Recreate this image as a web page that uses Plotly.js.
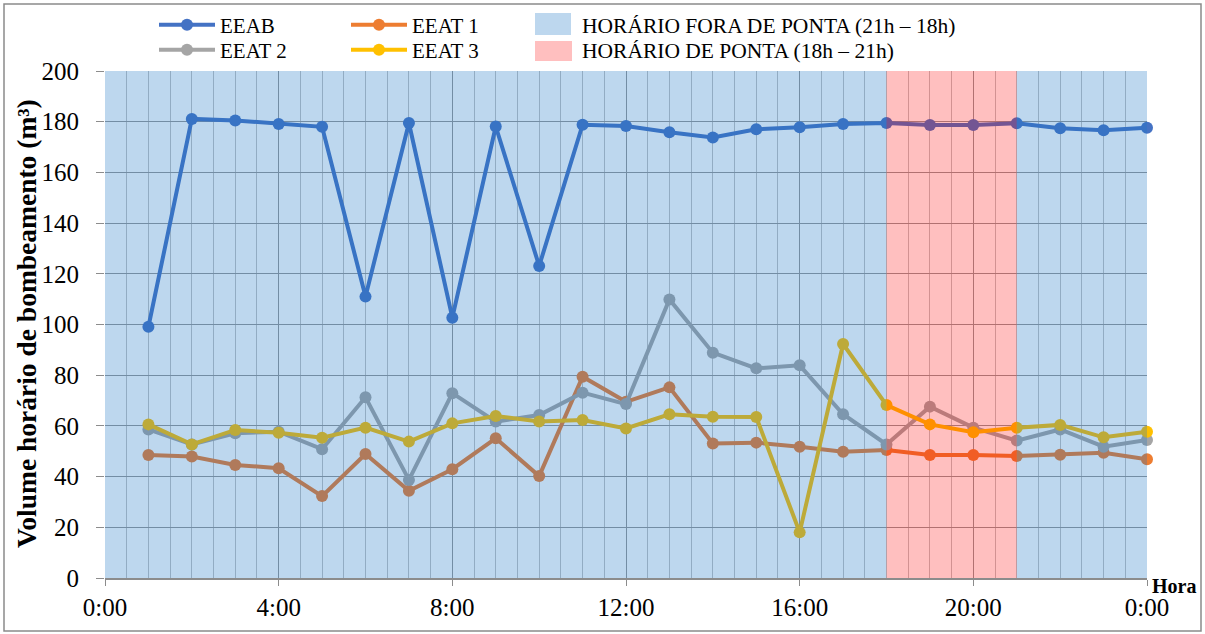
<!DOCTYPE html>
<html><head><meta charset="utf-8">
<script src="https://cdn.plot.ly/plotly-3.0.1.min.js"></script>
<style>
html,body{margin:0;padding:0;background:#fff}
#chart{width:1205px;height:634px}
</style></head><body><div id="chart"></div>
<script>
const hours = [1,2,3,4,5,6,7,8,9,10,11,12,13,14,15,16,17,18,19,20,21,22,23,24];
const eeab  = [99.1,181.1,180.5,179.1,178,111,179.5,102.7,178.1,123.1,178.8,178.3,175.8,173.8,177,177.8,179.1,179.5,178.7,178.7,179.4,177.4,176.6,177.6];
const eeat1 = [48.5,47.9,44.6,43.3,32.3,48.9,34.4,42.9,55.1,40.2,79.4,69.5,75.2,53.1,53.4,51.8,49.8,50.5,48.5,48.5,48.1,48.6,49.4,46.8];
const eeat2 = [58.6,52.7,57.1,57.7,50.8,71.3,38.7,72.9,61.7,64.3,73.1,68.6,109.9,88.9,82.7,83.9,64.6,52.7,67.6,59.3,54.2,58.6,51.8,54.4];
const eeat3 = [60.6,52.7,58.4,57.3,55.3,59.3,53.8,61,63.9,61.7,62.3,59,64.6,63.6,63.5,18,92.3,68.2,60.6,57.5,59.3,60.4,55.5,57.7];
const seriesNames = ['EEAB','EEAT 1','EEAT 2','EEAT 3'];
const seriesColors = ['#4472C4','#ED7D31','#A5A5A5','#FFC000'];
const xTickVals = [0,4,8,12,16,20,24];
const xTickText = ['0:00','4:00','8:00','12:00','16:00','20:00','0:00'];
const periodLabels = ['HORÁRIO FORA DE PONTA (21h – 18h)','HORÁRIO DE PONTA (18h – 21h)'];
const peakStart = 18, peakEnd = 21;

// translucent overlays (drawn above the lines, as in the original)
const offPeakFill = {color: 'rgb(27,117,196)', opacity: 0.29};
const peakFill = {color: 'rgb(255,0,0)', opacity: 0.25};

const FONT = 'Liberation Serif, Times New Roman, serif';
const L = 105, R = 1147, T = 71, B = 578;
const px2x = p => (p - L) / (R - L);
const px2y = p => (B - p) / (B - T);

const data = [eeab, eeat1, eeat2, eeat3];
const legendNames = ['legend','legend3','legend2','legend4'];
const traces = data.map((d, i) => ({
  type: 'scatter', mode: 'lines+markers', x: hours, y: d, name: seriesNames[i],
  line: {color: seriesColors[i], width: 4},
  marker: {color: seriesColors[i], size: 12},
  cliponaxis: false, legend: legendNames[i]
}));

function leg(px, py) {
  return {x: px2x(px), y: px2y(py), xanchor: 'left', yanchor: 'middle',
    bgcolor: 'rgba(0,0,0,0)', borderwidth: 0, itemwidth: 56,
    font: {family: FONT, size: 21, color: '#000'}};
}

function rect(xref, yref, x0, x1, y0, y1, fill) {
  return {type: 'rect', xref, yref, x0, x1, y0, y1, fillcolor: fill.color, opacity: fill.opacity,
    line: {width: 0}, layer: 'above'};
}

const shapes = [
  rect('x', 'y', 0, peakStart, 0, 200, offPeakFill),
  rect('x', 'y', peakStart, peakEnd, 0, 200, peakFill),
  rect('x', 'y', peakEnd, 24, 0, 200, offPeakFill),
  rect('paper', 'paper', px2x(535), px2x(571), px2y(35), px2y(13), offPeakFill),
  rect('paper', 'paper', px2x(535), px2x(572), px2y(61), px2y(41), peakFill),
  {type:'rect', xref:'paper', yref:'paper', x0:px2x(4), x1:px2x(1201), y0:px2y(631), y1:px2y(4),
   line:{width:1.5, color:'#8a8a8a'}, layer:'above'}
];

const annotations = [
  {xref:'paper', yref:'paper', x:px2x(580), y:px2y(26), xanchor:'left', yanchor:'middle', showarrow:false,
   text: periodLabels[0], font:{family:FONT, size:21.5, color:'#000'}},
  {xref:'paper', yref:'paper', x:px2x(580), y:px2y(51), xanchor:'left', yanchor:'middle', showarrow:false,
   text: periodLabels[1], font:{family:FONT, size:21.5, color:'#000'}},
  {xref:'paper', yref:'paper', x:px2x(26), y:px2y(324), xanchor:'center', yanchor:'middle', showarrow:false, textangle:-90,
   text:'<b>Volume horário de bombeamento (m³)</b>', font:{family:FONT, size:27.5, color:'#000'}},
  {xref:'paper', yref:'paper', x:px2x(1150), y:px2y(586), xanchor:'left', yanchor:'middle', showarrow:false,
   text:'<b>Hora</b>', font:{family:FONT, size:20, color:'#000'}}
];

const layout = {
  width: 1205, height: 634,
  margin: {l: L, r: 1205 - R, t: T, b: 634 - B, autoexpand: false},
  paper_bgcolor: '#ffffff', plot_bgcolor: '#ffffff',
  font: {family: FONT, size: 24, color: '#000'},
  showlegend: true,
  legend: leg(154, 25), legend2: leg(154, 50), legend3: leg(346, 25), legend4: leg(346, 50),
  xaxis: {range: [0, 24], tickmode: 'array', tickvals: xTickVals, ticktext: xTickText,
    showgrid: true, gridcolor: '#979797', gridwidth: 1,
    minor: {tickmode: 'linear', tick0: 0, dtick: 0.5, showgrid: true, gridcolor: '#c3c3c3', gridwidth: 1, ticklen: 0},
    ticks: 'outside', ticklen: 6, tickcolor: '#8c8c8c', tickfont: {family: FONT, size: 25, color: '#000'},
    showline: true, linecolor: '#8c8c8c', linewidth: 1.5, zeroline: false, fixedrange: true},
  yaxis: {range: [0, 200], tickmode: 'linear', tick0: 0, dtick: 20,
    showgrid: true, gridcolor: '#979797', gridwidth: 1,
    ticks: 'outside', ticklen: 8, tickcolor: '#8c8c8c', ticklabelstandoff: 12,
    tickfont: {family: FONT, size: 25, color: '#000'},
    showline: false, zeroline: false, fixedrange: true},
  shapes: shapes, annotations: annotations
};

Plotly.newPlot('chart', traces, layout, {displayModeBar: false, staticPlot: true});
</script></body></html>
